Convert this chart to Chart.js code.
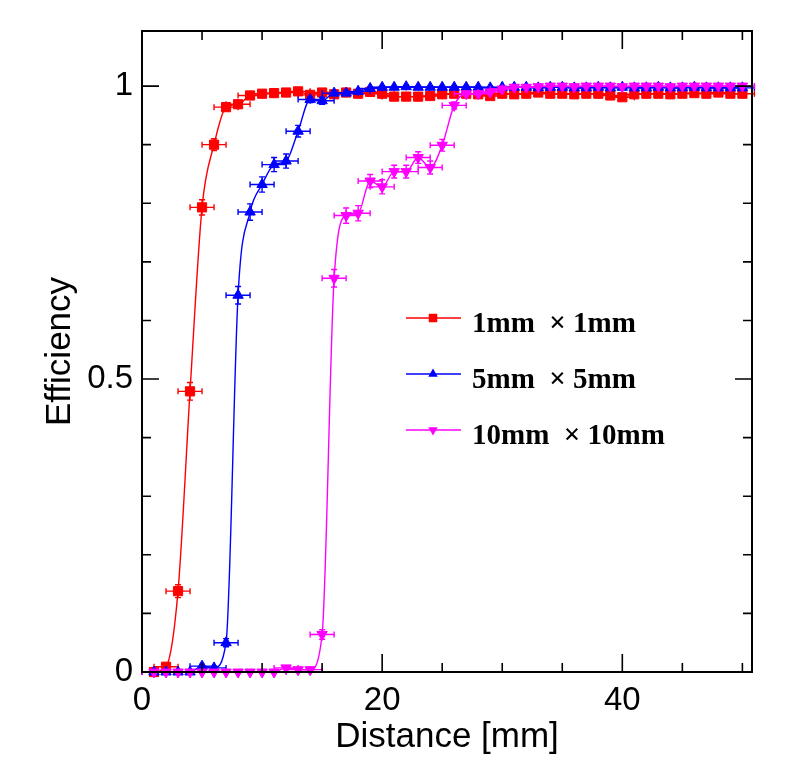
<!DOCTYPE html>
<html>
<head>
<meta charset="utf-8">
<title>Efficiency vs distance</title>
<script src="https://cdn.jsdelivr.net/npm/chart.js"></script>
<style>
  html, body { margin: 0; padding: 0; background: #ffffff; }
  #wrap { position: relative; width: 788px; height: 764px; }
</style>
</head>
<body>
<div id="wrap"><canvas id="chart-eff"></canvas></div>
<script>
// distance in mm, same points for all three pad sizes
var distance = [1, 2, 3, 4, 5, 6, 7, 8, 9, 10,
  11, 12, 13, 14, 15, 16, 17, 18, 19, 20,
  21, 22, 23, 24, 25, 26, 27, 28, 29, 30,
  31, 32, 33, 34, 35, 36, 37, 38, 39, 40,
  41, 42, 43, 44, 45, 46, 47, 48, 49, 50];
var distanceErr = 1; // half width of the x error bars

var eff1mm = [0.000, 0.009, 0.138, 0.479, 0.793, 0.900, 0.964, 0.969, 0.984, 0.987,
  0.988, 0.989, 0.991, 0.985, 0.989, 0.986, 0.989, 0.987, 0.990, 0.987,
  0.982, 0.982, 0.982, 0.983, 0.986, 0.987, 0.987, 0.986, 0.983, 0.987,
  0.986, 0.987, 0.989, 0.987, 0.987, 0.986, 0.987, 0.987, 0.984, 0.981,
  0.986, 0.987, 0.987, 0.986, 0.987, 0.988, 0.987, 0.989, 0.987, 0.987];
var err1mm = [0.001, 0.004, 0.011, 0.015, 0.013, 0.010, 0.006, 0.006, 0.004, 0.004,
  0.004, 0.004, 0.003, 0.004, 0.003, 0.004, 0.003, 0.003, 0.003, 0.003,
  0.004, 0.004, 0.004, 0.004, 0.003, 0.003, 0.003, 0.003, 0.004, 0.003,
  0.003, 0.003, 0.003, 0.003, 0.003, 0.003, 0.003, 0.003, 0.004, 0.004,
  0.003, 0.003, 0.003, 0.003, 0.003, 0.003, 0.003, 0.003, 0.003, 0.003];

var eff5mm = [0.000, 0.000, 0.000, 0.000, 0.010, 0.007, 0.050, 0.643, 0.785, 0.832,
  0.866, 0.872, 0.923, 0.977, 0.975, 0.988, 0.988, 0.991, 0.996, 0.998,
  0.998, 0.999, 0.998, 0.998, 0.998, 0.998, 0.998, 0.998, 0.997, 0.998,
  0.998, 0.998, 0.997, 0.998, 0.998, 0.997, 0.997, 0.998, 0.997, 0.998,
  0.997, 0.997, 0.998, 0.997, 0.997, 0.998, 0.997, 0.997, 0.997, 0.997];
var err5mm = [0.001, 0.001, 0.001, 0.001, 0.003, 0.003, 0.007, 0.015, 0.014, 0.013,
  0.012, 0.012, 0.010, 0.005, 0.006, 0.004, 0.004, 0.003, 0.002, 0.002,
  0.002, 0.002, 0.002, 0.002, 0.002, 0.002, 0.002, 0.002, 0.002, 0.002,
  0.002, 0.002, 0.002, 0.002, 0.002, 0.002, 0.002, 0.002, 0.002, 0.002,
  0.002, 0.002, 0.002, 0.002, 0.002, 0.002, 0.002, 0.002, 0.002, 0.002];

var eff10mm = [0.000, 0.000, 0.000, 0.000, 0.000, 0.000, 0.000, 0.000, 0.000, 0.000,
  0.000, 0.007, 0.004, 0.004, 0.064, 0.672, 0.779, 0.783, 0.838, 0.828,
  0.854, 0.854, 0.878, 0.861, 0.899, 0.967, 0.987, 0.987, 0.990, 0.995,
  0.998, 0.998, 0.999, 1.000, 1.000, 0.999, 1.000, 1.000, 1.000, 0.999,
  1.000, 1.000, 1.000, 0.999, 1.000, 1.000, 1.000, 1.000, 1.000, 1.000];
var err10mm = [0.001, 0.001, 0.001, 0.001, 0.001, 0.001, 0.001, 0.001, 0.001, 0.001,
  0.001, 0.003, 0.002, 0.002, 0.008, 0.015, 0.013, 0.013, 0.011, 0.012,
  0.011, 0.011, 0.010, 0.011, 0.010, 0.006, 0.004, 0.003, 0.003, 0.002,
  0.002, 0.002, 0.002, 0.001, 0.001, 0.001, 0.001, 0.001, 0.001, 0.001,
  0.001, 0.001, 0.001, 0.001, 0.001, 0.001, 0.001, 0.001, 0.001, 0.001];

var seriesNames = ["1mm  \u00d7 1mm", "5mm  \u00d7 5mm", "10mm  \u00d7 10mm"];
var seriesColors = ["#ff0000", "#0000ff", "#ff00ff"];

var xTickLabels = [0, 20, 40];
var yTickLabels = [0, 0.5, 1];

function toPoints(xs, ys, es) {
  return xs.map(function (x, i) {
    return { x: x, y: ys[i], yErr: es[i] };
  });
}

function drawMarker(ctx, style, x, y, r) {
  ctx.beginPath();
  if (style === "rect") {
    var s = r * Math.SQRT1_2;
    ctx.rect(x - s, y - s, 2 * s, 2 * s);
  } else if (style === "up") {
    ctx.moveTo(x, y - r);
    ctx.lineTo(x + r * 0.866, y + r * 0.5);
    ctx.lineTo(x - r * 0.866, y + r * 0.5);
    ctx.closePath();
  } else {
    ctx.moveTo(x, y + r);
    ctx.lineTo(x + r * 0.866, y - r * 0.5);
    ctx.lineTo(x - r * 0.866, y - r * 0.5);
    ctx.closePath();
  }
  ctx.fill();
}

// error bars, drawn just before each dataset so markers sit on top
var errorBars = {
  id: "errorBars",
  beforeDatasetDraw: function (chart, args) {
    var ctx = chart.ctx;
    var ds = chart.data.datasets[args.index];
    var xs = chart.scales.x, ys = chart.scales.y;
    var cap = 3;
    ctx.save();
    ctx.strokeStyle = ds.borderColor;
    ctx.lineWidth = 1.4;
    ds.data.forEach(function (p) {
      var px = xs.getPixelForValue(p.x);
      var py = ys.getPixelForValue(p.y);
      var x0 = xs.getPixelForValue(p.x - distanceErr);
      var x1 = xs.getPixelForValue(p.x + distanceErr);
      var y0 = ys.getPixelForValue(p.y - p.yErr);
      var y1 = ys.getPixelForValue(p.y + p.yErr);
      ctx.beginPath();
      ctx.moveTo(x0, py); ctx.lineTo(x1, py);
      ctx.moveTo(x0, py - cap); ctx.lineTo(x0, py + cap);
      ctx.moveTo(x1, py - cap); ctx.lineTo(x1, py + cap);
      ctx.moveTo(px, y0); ctx.lineTo(px, y1);
      ctx.moveTo(px - cap, y0); ctx.lineTo(px + cap, y0);
      ctx.moveTo(px - cap, y1); ctx.lineTo(px + cap, y1);
      ctx.stroke();
    });
    ctx.restore();
  }
};

// ROOT style frame, inward ticks, labels, titles and legend
var rootFrame = {
  id: "rootFrame",
  afterDraw: function (chart) {
    var ctx = chart.ctx;
    var a = chart.chartArea;
    var xs = chart.scales.x, ys = chart.scales.y;
    var v, p, len;
    ctx.save();
    ctx.strokeStyle = "#000";
    ctx.lineWidth = 2;
    ctx.strokeRect(a.left, a.top, a.right - a.left, a.bottom - a.top);

    ctx.lineWidth = 1.6;
    ctx.beginPath();
    for (v = 0; v <= 50; v += 5) {
      p = xs.getPixelForValue(v);
      len = v % 20 === 0 ? 18 : 9;
      ctx.moveTo(p, a.bottom); ctx.lineTo(p, a.bottom - len);
      ctx.moveTo(p, a.top); ctx.lineTo(p, a.top + len);
    }
    for (var k = 0; k <= 10; k++) {
      p = ys.getPixelForValue(k / 10);
      len = k % 5 === 0 ? 17 : 9;
      ctx.moveTo(a.left, p); ctx.lineTo(a.left + len, p);
      ctx.moveTo(a.right, p); ctx.lineTo(a.right - len, p);
    }
    ctx.stroke();

    ctx.fillStyle = "#000";
    ctx.font = "33px 'Liberation Sans', Arial, sans-serif";
    ctx.textAlign = "center";
    ctx.textBaseline = "top";
    xTickLabels.forEach(function (t) {
      ctx.fillText(String(t), xs.getPixelForValue(t), a.bottom + 12);
    });
    ctx.textAlign = "right";
    ctx.textBaseline = "middle";
    yTickLabels.forEach(function (t) {
      ctx.fillText(String(t), a.left - 9, ys.getPixelForValue(t));
    });

    ctx.font = "35px 'Liberation Sans', Arial, sans-serif";
    ctx.textAlign = "center";
    ctx.textBaseline = "alphabetic";
    ctx.fillText("Distance [mm]", (a.left + a.right) / 2, 747);
    ctx.save();
    ctx.translate(70, (a.top + a.bottom) / 2);
    ctx.rotate(-Math.PI / 2);
    ctx.fillText("Efficiency", 0, 0);
    ctx.restore();

    // legend
    var styles = ["rect", "up", "down"];
    var rowsY = [318, 374, 430];
    ctx.font = "bold 29px 'Liberation Serif', 'Times New Roman', serif";
    ctx.textAlign = "left";
    for (var i = 0; i < 3; i++) {
      ctx.strokeStyle = seriesColors[i];
      ctx.fillStyle = seriesColors[i];
      ctx.lineWidth = 1.4;
      ctx.beginPath();
      ctx.moveTo(406, rowsY[i]); ctx.lineTo(461, rowsY[i]);
      ctx.stroke();
      drawMarker(ctx, styles[i], 433, rowsY[i], i === 0 ? 6 : 5.5);
      ctx.fillStyle = "#000";
      ctx.fillText(seriesNames[i], 472, rowsY[i] + 14);
    }
    ctx.restore();
  }
};

function makeSet(i, ys, es, style, rot, r, order) {
  return {
    label: seriesNames[i],
    data: toPoints(distance, ys, es),
    borderColor: seriesColors[i],
    backgroundColor: seriesColors[i],
    borderWidth: 1.4,
    pointStyle: style,
    rotation: rot,
    pointRadius: r,
    pointBorderWidth: 1,
    pointBackgroundColor: seriesColors[i],
    pointBorderColor: seriesColors[i],
    cubicInterpolationMode: "monotone",
    fill: false,
    clip: false,
    order: order
  };
}

var ctx = document.getElementById("chart-eff");
var effChart = new Chart(ctx, {
  type: "line",
  data: {
    datasets: [
      makeSet(0, eff1mm, err1mm, "rect", 0, 6.5, 3),
      makeSet(1, eff5mm, err5mm, "triangle", 0, 6, 2),
      makeSet(2, eff10mm, err10mm, "triangle", 180, 6, 1)
    ]
  },
  options: {
    responsive: true,
    maintainAspectRatio: false,
    animation: false,
    events: [],
    layout: { padding: { left: 142, right: 36, top: 31, bottom: 92 } },
    plugins: {
      legend: { display: false },
      tooltip: { enabled: false }
    },
    scales: {
      x: { type: "linear", min: 0, max: 50.8, display: false },
      y: { type: "linear", min: 0, max: 1.094, display: false }
    }
  },
  plugins: [errorBars, rootFrame]
});
</script>
</body>
</html>
